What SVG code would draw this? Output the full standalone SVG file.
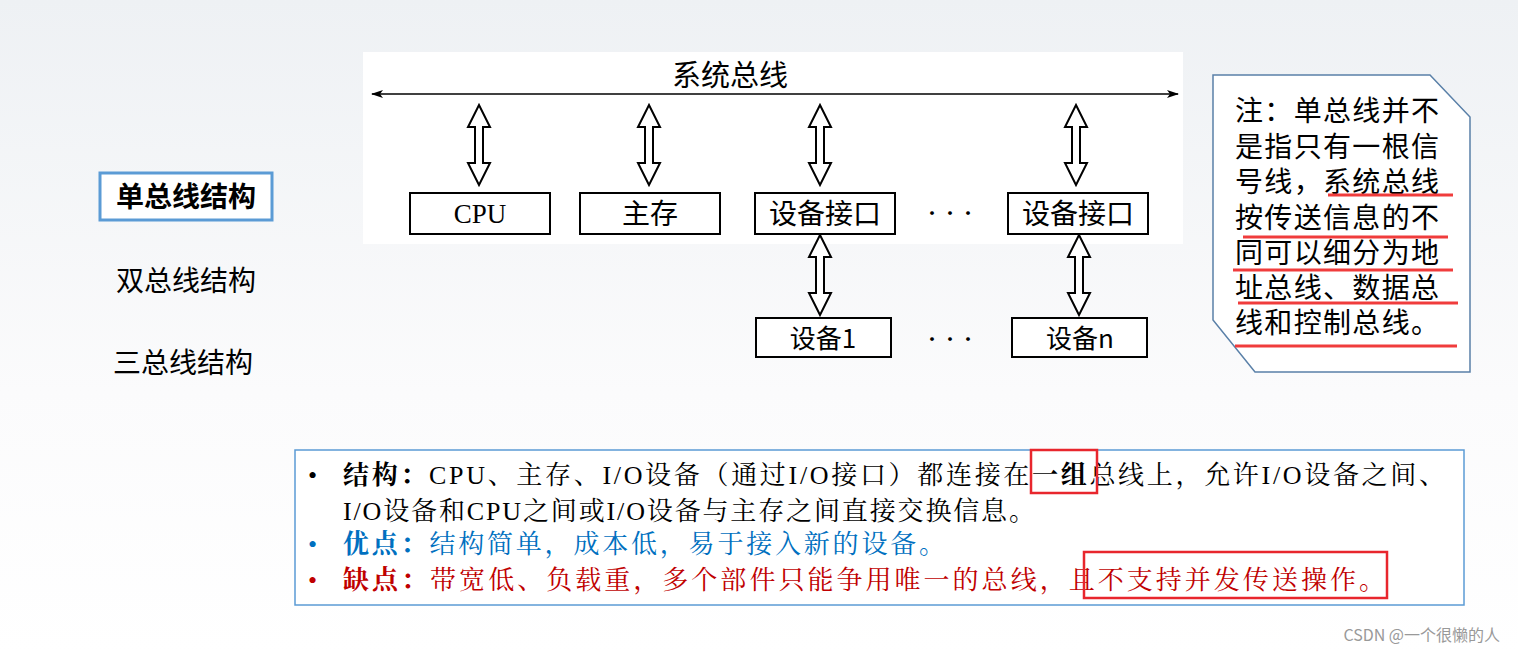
<svg xmlns="http://www.w3.org/2000/svg" width="1518" height="653" viewBox="0 0 1518 653">
<defs>
<linearGradient id="bg" x1="0" y1="0" x2="0" y2="1"><stop offset="0" stop-color="#eef1f4"/><stop offset="0.6" stop-color="#fbfbfc"/><stop offset="1" stop-color="#ffffff"/></linearGradient>
<marker id="ah" viewBox="0 0 12 8" refX="11" refY="4" markerWidth="12" markerHeight="8" orient="auto-start-reverse" markerUnits="userSpaceOnUse"><path d="M0,0 L12,4 L0,8 L3,4 Z" fill="#000"/></marker>
<path id="dbl" d="M0,-40 L11,-18 L4,-18 L4,18 L11,18 L0,40 L-11,18 L-4,18 L-4,-18 L-11,-18 Z" fill="#fff" stroke="#000" stroke-width="2"/>
</defs>
<style>
.t{font-family:"Noto Sans CJK SC","Noto Sans",sans-serif;fill:#000}
.s{font-family:"Liberation Serif","Noto Serif CJK SC","Noto Sans CJK SC",serif}
.box{fill:#fff;stroke:#000;stroke-width:2}
.red{stroke:#f03c3c;stroke-width:3;fill:none}
</style>
<rect width="1518" height="653" fill="url(#bg)"/>
<rect x="363" y="52" width="820" height="192" fill="#fff"/>
<g id="connectors">
<line x1="372" y1="94" x2="1178" y2="94" stroke="#000" stroke-width="1.5" marker-start="url(#ah)" marker-end="url(#ah)"/>
<use href="#dbl" x="479" y="145"/>
<use href="#dbl" x="649" y="145"/>
<use href="#dbl" x="820" y="145"/>
<use href="#dbl" x="1076" y="145"/>
<use href="#dbl" x="820" y="275"/>
<use href="#dbl" x="1079" y="275"/>
</g>
<text class="t" x="730" y="86" font-size="29" text-anchor="middle">系统总线</text>
<g id="cpu"><rect class="box" x="410" y="193" width="140" height="41"/><text class="s" x="480" y="223" font-size="27" text-anchor="middle">CPU</text></g>
<g id="mem"><rect class="box" x="580" y="193" width="140" height="41"/><text class="t" x="650" y="224" font-size="28" text-anchor="middle">主存</text></g>
<g id="if1"><rect class="box" x="755" y="193" width="140" height="41"/><text class="t" x="825" y="224" font-size="28" text-anchor="middle">设备接口</text></g>
<text class="t" x="950" y="220" font-size="18" text-anchor="middle">···</text>
<g id="if2"><rect class="box" x="1008" y="193" width="140" height="41"/><text class="t" x="1078" y="224" font-size="28" text-anchor="middle">设备接口</text></g>
<g id="dev1"><rect class="box" x="756" y="318" width="135" height="39"/><text class="t" x="823" y="348" font-size="26" text-anchor="middle">设备1</text></g>
<text class="t" x="950" y="346" font-size="18" text-anchor="middle">···</text>
<g id="devn"><rect class="box" x="1012" y="318" width="135" height="39"/><text class="t" x="1080" y="348" font-size="26" text-anchor="middle">设备n</text></g>
<g id="menu">
<rect x="100" y="173" width="172" height="47" fill="#fff" stroke="#5b9bd5" stroke-width="3"/>
<text class="t" x="186" y="207" font-size="28" font-weight="bold" text-anchor="middle">单总线结构</text>
<text class="t" x="186" y="291" font-size="28" text-anchor="middle">双总线结构</text>
<text class="t" x="183" y="373" font-size="28" text-anchor="middle">三总线结构</text>
</g>
<g id="note">
<polygon points="1213,75 1430,75 1470,117 1470,372 1255,372 1213,320" fill="#fff" stroke="#5a80a8" stroke-width="1.5"/>
<g class="t" font-size="28">
<text x="1235" y="121" textLength="204">注：单总线并不</text>
<text x="1235" y="157" textLength="204">是指只有一根信</text>
<text x="1235" y="192" textLength="204">号线，系统总线</text>
<text x="1235" y="228" textLength="204">按传送信息的不</text>
<text x="1235" y="263" textLength="204">同可以细分为地</text>
<text x="1235" y="298" textLength="204">址总线、数据总</text>
<text x="1235" y="333" textLength="204">线和控制总线。</text>
</g>
<line class="red" x1="1328" y1="195" x2="1453" y2="195"/>
<line class="red" x1="1243" y1="237" x2="1448" y2="237"/>
<line class="red" x1="1233" y1="270" x2="1453" y2="270"/>
<line class="red" x1="1238" y1="303" x2="1458" y2="303"/>
<line class="red" x1="1235" y1="346" x2="1457" y2="346"/>
</g>
<g id="desc">
<rect x="295" y="450" width="1169" height="155" fill="#fff" stroke="#5b9bd5" stroke-width="1.5"/>
<g font-size="26">
<text class="s" x="308" y="484">•</text>
<text class="s" x="343" y="484" textLength="1102" lengthAdjust="spacing"><tspan font-weight="bold">结构：</tspan>CPU、主存、I/O设备（通过I/O接口）都连接在<tspan font-weight="bold">一组</tspan>总线上，允许I/O设备之间、</text>
<text class="s" x="343" y="520" textLength="692" lengthAdjust="spacing">I/O设备和CPU之间或I/O设备与主存之间直接交换信息。</text>
<text class="s" x="308" y="553" fill="#0070c0">•</text>
<text class="s" x="343" y="553" fill="#0070c0" textLength="602" lengthAdjust="spacing"><tspan font-weight="bold">优点：</tspan>结构简单，成本低，易于接入新的设备。</text>
<text class="s" x="308" y="589" fill="#c00000">•</text>
<text class="s" x="343" y="589" fill="#c00000" textLength="1042" lengthAdjust="spacing"><tspan font-weight="bold">缺点：</tspan>带宽低、负载重，多个部件只能争用唯一的总线，且不支持并发传送操作。</text>
</g>
<rect x="1031" y="450" width="66" height="43" fill="none" stroke="#e8262d" stroke-width="2.5"/>
<rect x="1084" y="552" width="303" height="46" fill="none" stroke="#e8262d" stroke-width="2.5"/>
</g>
<text x="1500" y="641" font-family="Noto Sans CJK SC, sans-serif" font-size="16" fill="#999" text-anchor="end">CSDN @一个很懒的人</text>
</svg>
